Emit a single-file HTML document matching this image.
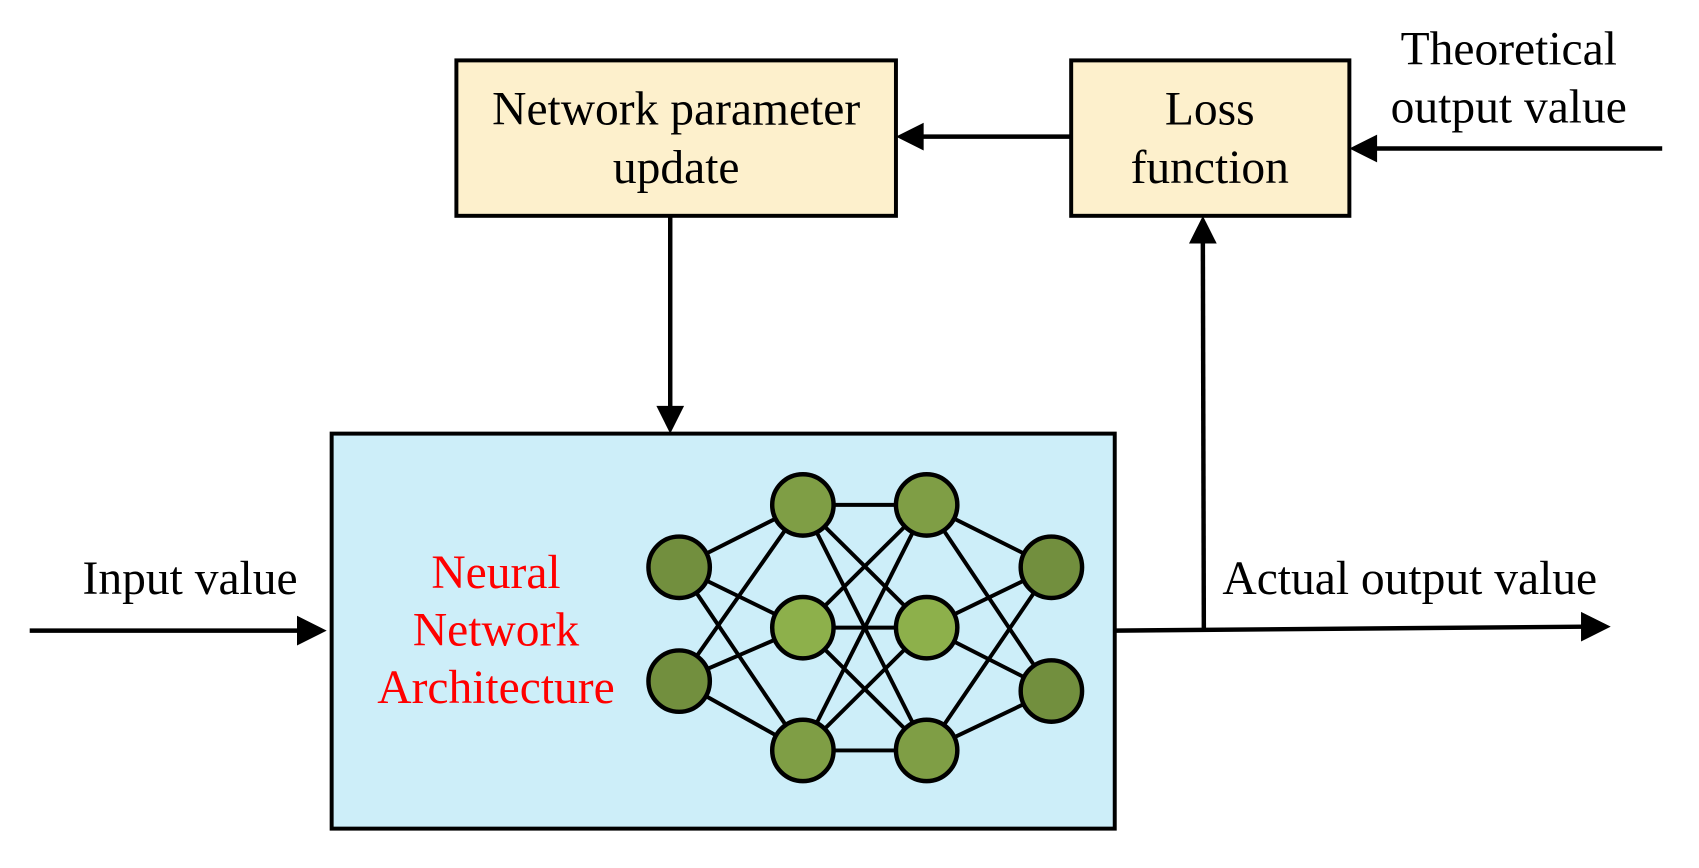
<!DOCTYPE html>
<html><head><meta charset="utf-8"><style>
html,body{margin:0;padding:0;background:#fff;}
svg{display:block;}
text{font-family:"Liberation Serif",serif;font-size:48px;}
</style></head><body>
<svg width="1699" height="868" viewBox="0 0 1699 868" xmlns="http://www.w3.org/2000/svg">
<g transform="scale(0.99)">
<rect x="461" y="61" width="444" height="157" fill="#fdf0cc" stroke="#000" stroke-width="4"/>
<rect x="1082" y="61" width="281" height="157" fill="#fdf0cc" stroke="#000" stroke-width="4"/>
<rect x="335" y="438" width="791" height="399" fill="#cdeef9" stroke="#000" stroke-width="4"/>
<text x="683" y="126" text-anchor="middle">Network parameter</text>
<text x="683" y="185" text-anchor="middle">update</text>
<text x="1222" y="126" text-anchor="middle">Loss</text>
<text x="1222" y="185" text-anchor="middle">function</text>
<text x="1524" y="65" text-anchor="middle">Theoretical</text>
<text x="1524" y="124" text-anchor="middle">output value</text>
<text x="192" y="600" text-anchor="middle">Input value</text>
<text x="1424" y="600" text-anchor="middle">Actual output value</text>
<g fill="#ff0000" text-anchor="middle">
<text x="501" y="594">Neural</text>
<text x="501" y="652">Network</text>
<text x="501" y="710">Architecture</text>
</g>
<g stroke="#000" stroke-width="4.5" fill="none">
<line x1="1082" y1="138" x2="930" y2="138"/>
<line x1="1679" y1="150" x2="1388" y2="150"/>
<line x1="677" y1="218" x2="677" y2="412"/>
<line x1="1216" y1="635" x2="1215" y2="244"/>
<line x1="30" y1="637" x2="305" y2="637"/>
<line x1="1126" y1="637" x2="1600" y2="633"/>
</g>
<g fill="#000">
<polygon points="905,138 933,124 933,152"/>
<polygon points="1363,150 1391,136 1391,164"/>
<polygon points="677,438 663,410 691,410"/>
<polygon points="1215,218 1201,246 1229,246"/>
<polygon points="330,637 300,622 300,652"/>
<polygon points="1627,633 1597,618 1597,648"/>
</g>
<g transform="translate(10,5)">
<g stroke="#000" stroke-width="4">
<line x1="676" y1="568" x2="801" y2="505"/><line x1="676" y1="568" x2="801" y2="629"/><line x1="676" y1="568" x2="801" y2="753"/>
<line x1="676" y1="683" x2="801" y2="505"/><line x1="676" y1="683" x2="801" y2="629"/><line x1="676" y1="683" x2="801" y2="753"/>
<line x1="801" y1="505" x2="926" y2="505"/><line x1="801" y1="505" x2="926" y2="629"/><line x1="801" y1="505" x2="926" y2="753"/>
<line x1="801" y1="629" x2="926" y2="505"/><line x1="801" y1="629" x2="926" y2="629"/><line x1="801" y1="629" x2="926" y2="753"/>
<line x1="801" y1="753" x2="926" y2="505"/><line x1="801" y1="753" x2="926" y2="629"/><line x1="801" y1="753" x2="926" y2="753"/>
<line x1="926" y1="505" x2="1052" y2="568"/><line x1="926" y1="505" x2="1052" y2="693"/>
<line x1="926" y1="629" x2="1052" y2="568"/><line x1="926" y1="629" x2="1052" y2="693"/>
<line x1="926" y1="753" x2="1052" y2="568"/><line x1="926" y1="753" x2="1052" y2="693"/>
</g>
<g stroke="#000" stroke-width="4.5">
<circle cx="676" cy="568" r="31" fill="#728f3e"/>
<circle cx="676" cy="683" r="31" fill="#728f3e"/>
<circle cx="801" cy="505" r="31" fill="#7f9e45"/>
<circle cx="801" cy="629" r="31" fill="#8db04b"/>
<circle cx="801" cy="753" r="31" fill="#7f9e45"/>
<circle cx="926" cy="505" r="31" fill="#7f9e45"/>
<circle cx="926" cy="629" r="31" fill="#8db04b"/>
<circle cx="926" cy="753" r="31" fill="#7f9e45"/>
<circle cx="1052" cy="568" r="31" fill="#728f3e"/>
<circle cx="1052" cy="693" r="31" fill="#728f3e"/>
</g>
</g>
</g>
</svg>
</body></html>
